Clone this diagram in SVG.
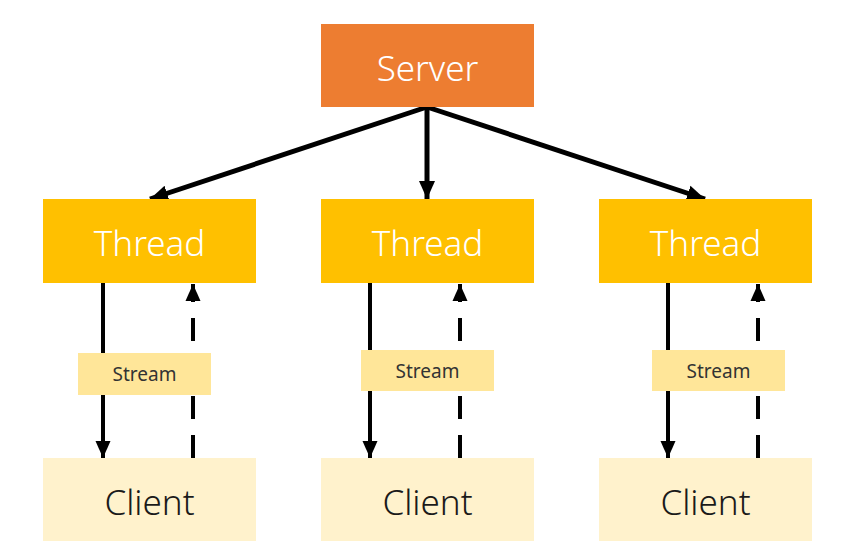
<svg xmlns="http://www.w3.org/2000/svg" width="861" height="557" viewBox="0 0 861 557">
<style>
.server{fill:#ED7D31}
.thread{fill:#FFC000}
.client{fill:#FFF2CC}
.stream{fill:#FFE699}
.big{font-family:"Noto Sans","DejaVu Sans",sans-serif;font-size:35px;font-weight:300;text-anchor:middle;dominant-baseline:central}
.w{fill:#FFFFFF}
.d{fill:#1A1A1A}
.small{font-family:"Noto Sans","DejaVu Sans",sans-serif;font-size:19px;text-anchor:middle;dominant-baseline:central;fill:#333333}
.main{stroke:#000;stroke-width:5;fill:none}
.v{stroke:#000;stroke-width:4;fill:none}
.dash{stroke-dasharray:23 16}
</style>
<defs>
<marker id="ah" markerUnits="userSpaceOnUse" markerWidth="20" markerHeight="20" viewBox="0 0 20 20" refX="18" refY="10" orient="auto">
<path d="M0,2 L18,10 L0,18 Z" fill="#000"/>
</marker>
<marker id="ahs" markerUnits="userSpaceOnUse" markerWidth="18" markerHeight="18" viewBox="0 0 18 18" refX="17" refY="9" orient="auto">
<path d="M0,1.5 L17,9 L0,16.5 Z" fill="#000"/>
</marker>
</defs>
<g id="connectors">
<line class="main" x1="427" y1="107" x2="150" y2="199" marker-end="url(#ah)"/>
<line class="main" x1="427" y1="107" x2="427" y2="199" marker-end="url(#ah)"/>
<line class="main" x1="427" y1="107" x2="705" y2="199" marker-end="url(#ah)"/>
<line class="v" x1="103" y1="283" x2="103" y2="458" marker-end="url(#ahs)"/>
<line class="v dash" x1="193" y1="458" x2="193" y2="284" marker-end="url(#ahs)"/>
<line class="v" x1="370" y1="283" x2="370" y2="458" marker-end="url(#ahs)"/>
<line class="v dash" x1="460" y1="458" x2="460" y2="284" marker-end="url(#ahs)"/>
<line class="v" x1="668" y1="283" x2="668" y2="458" marker-end="url(#ahs)"/>
<line class="v dash" x1="758" y1="458" x2="758" y2="284" marker-end="url(#ahs)"/>
</g>
<g id="server"><rect class="server" x="321" y="24" width="213" height="83"/><text class="big w" x="427.5" y="67">Server</text></g>
<g id="thread1"><rect class="thread" x="43" y="199" width="213" height="84"/><text class="big w" x="149.5" y="242">Thread</text></g>
<g id="thread2"><rect class="thread" x="321" y="199" width="213" height="84"/><text class="big w" x="427.5" y="242">Thread</text></g>
<g id="thread3"><rect class="thread" x="599" y="199" width="213" height="84"/><text class="big w" x="705.5" y="242">Thread</text></g>
<g id="stream1"><rect class="stream" x="78" y="353" width="133" height="42"/><text class="small" x="144.5" y="374">Stream</text></g>
<g id="stream2"><rect class="stream" x="361" y="350" width="133" height="41"/><text class="small" x="427.5" y="370.5">Stream</text></g>
<g id="stream3"><rect class="stream" x="652" y="350" width="133" height="41"/><text class="small" x="718.5" y="370.5">Stream</text></g>
<g id="client1"><rect class="client" x="43" y="458" width="213" height="83"/><text class="big d" x="149.5" y="501">Client</text></g>
<g id="client2"><rect class="client" x="321" y="458" width="213" height="83"/><text class="big d" x="427.5" y="501">Client</text></g>
<g id="client3"><rect class="client" x="599" y="458" width="213" height="83"/><text class="big d" x="705.5" y="501">Client</text></g>
</svg>
